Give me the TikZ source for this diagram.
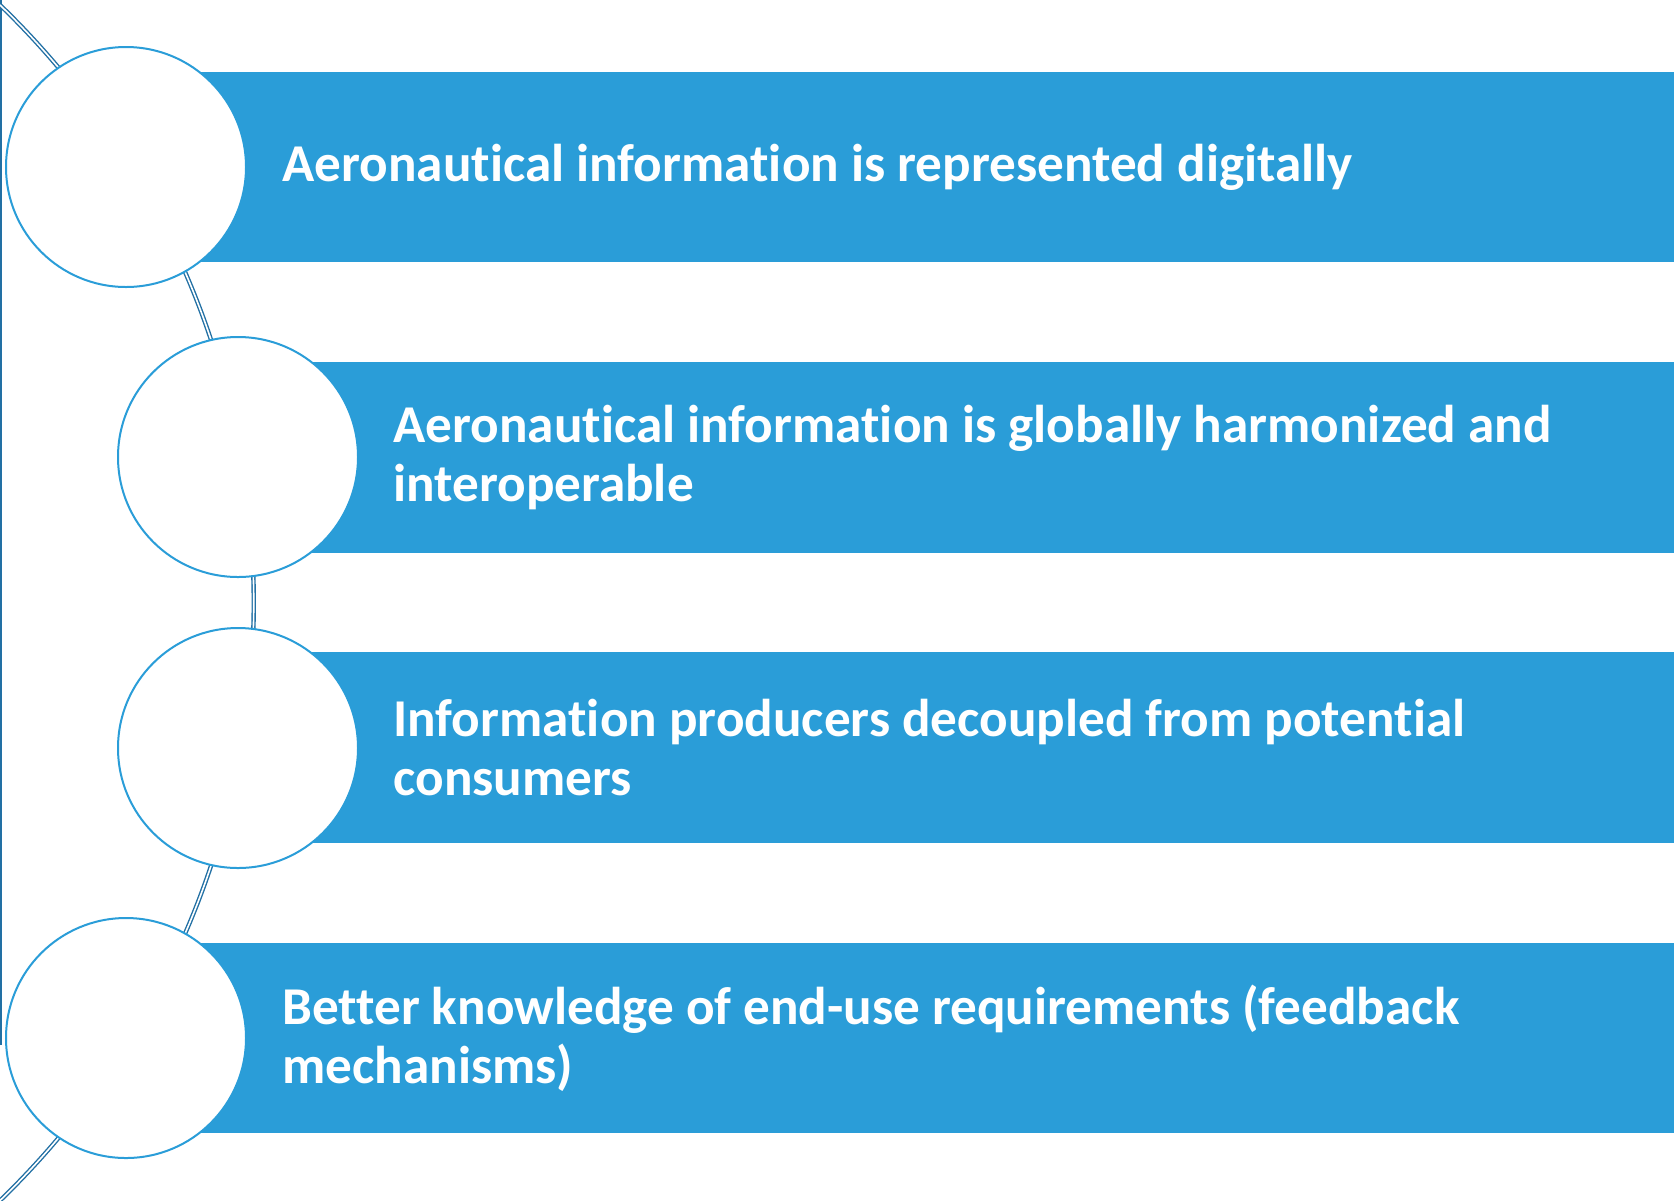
\documentclass[tikz,border=0pt]{standalone}
\usepackage{fontspec}
\setmainfont{Carlito}[Ligatures=NoCommon]
\usepackage{tikz}

\definecolor{barblue}{RGB}{42,157,216}
\definecolor{linkblue}{RGB}{34,112,164}

\begin{document}
\begin{tikzpicture}[x=0.5pt,y=-0.5pt,
        dot/.style={circle,draw=barblue,fill=white,line width=1pt,minimum size=120pt,inner sep=0pt},
        bartext/.style={anchor=west,align=left,inner sep=0pt,text=white,
            font=\fontsize{26.6pt}{29.3pt}\selectfont\bfseries},
        link/.style={draw=linkblue,line width=0.7pt,double=white,double distance=0.8pt}]
        \useasboundingbox (0,0) rectangle (1674,1200);
        \fill[barblue] (126,72) rectangle (1674,262);
        \fill[barblue] (238,362) rectangle (1674,553);
        \fill[barblue] (238,652) rectangle (1674,843);
        \fill[barblue] (126,943) rectangle (1674,1133);
        \draw[linkblue,line width=1pt] (1,0) -- (1,1045);
        \coordinate (arctop) at (0,5);
        \draw[link] (arctop) arc[start angle=-46,end angle=46,radius=831];
        \node[dot] (c1) at (126,167) {};
        \node[dot] (c2) at (238,457) {};
        \node[dot] (c3) at (238,748) {};
        \node[dot] (c4) at (126,1038) {};
        \node[bartext] (t1) at (282,167) {Aeronautical information is represented digitally};
        \node[bartext] (t2) at (393,457.5) {Aeronautical information is globally harmonized and\\interoperable};
        \node[bartext] (t3) at (393,747.5) {Information producers decoupled from potential\\consumers};
        \node[bartext] (t4) at (282,1038) {Better knowledge of end-use requirements (feedback\\mechanisms)};
    \end{tikzpicture}
\end{document}
